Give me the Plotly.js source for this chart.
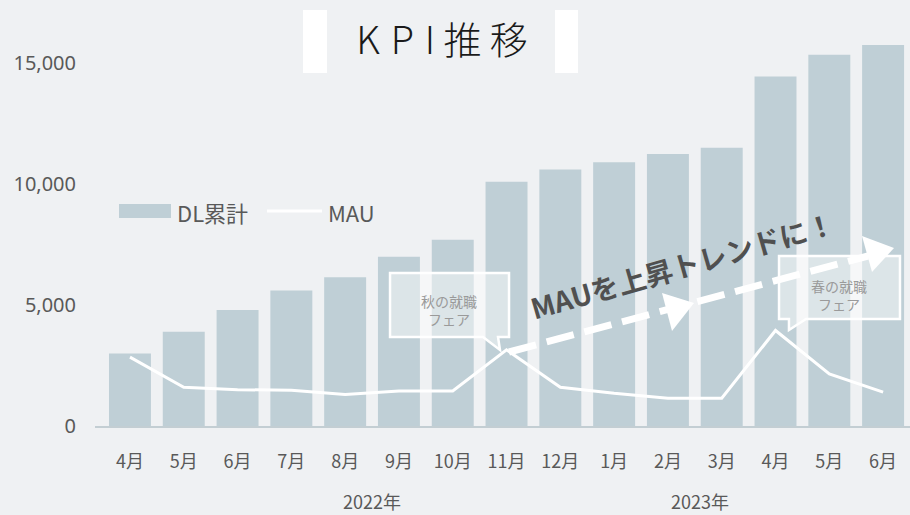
<!DOCTYPE html>
<html>
<head>
<meta charset="utf-8">
<script src="https://cdn.plot.ly/plotly-3.0.1.min.js"></script>
<style>html,body{margin:0;padding:0;background:#eff1f3;}#chart{width:910px;height:515px;}</style>
</head>
<body>
<div id="chart"></div>
<script>
// ---- data ----
const months = ["4月","5月","6月","7月","8月","9月","10月","11月","12月","1月","2月","3月","4月","5月","6月"];
const years = ["2022年","2023年"];
const dlTotal = [3000,3900,4800,5600,6150,7000,7700,10100,10600,10900,11250,11500,14450,15350,15750];
const mau = [2850,1600,1500,1480,1300,1450,1450,3150,1600,1350,1150,1150,3950,2150,1400];
const seriesNames = ["DL累計","MAU"];
const titleText = "K \u200AP \u200AI 推 移";
const trendText = "MAUを上昇トレンドに！";
const eventAutumn = "秋の就職<br>フェア";
const eventSpring = "春の就職<br>フェア";

// ---- layout helpers (pixel -> paper) ----
const L = 95, T = 39, W = 815, H = 387;
const X = px => (px - L) / W;
const Y = py => (T + H - py) / H;
const P = pts => pts.map((p, i) => (i ? "L" : "M") + X(p[0]).toFixed(4) + "," + Y(p[1]).toFixed(4)).join(" ") + " Z";

const FONT = '"Noto Sans CJK JP", "Noto Sans", sans-serif';
const BAR = "#bfcfd6";
const GREY = "#595959";

const idx = months.map((m, i) => i);

const traces = [
  {type: "bar", x: idx, y: dlTotal, name: seriesNames[0], marker: {color: BAR}, showlegend: false, hoverinfo: "skip"},
  {type: "scatter", mode: "lines", x: idx, y: mau, name: seriesNames[1], line: {color: "#ffffff", width: 3}, showlegend: false, hoverinfo: "skip"}
];

const shapes = [
  // title side boxes
  {type: "rect", xref: "paper", yref: "paper", x0: X(303), x1: X(327), y0: Y(73), y1: Y(10), fillcolor: "#ffffff", line: {width: 0}, layer: "below"},
  {type: "rect", xref: "paper", yref: "paper", x0: X(555), x1: X(578), y0: Y(73), y1: Y(10), fillcolor: "#ffffff", line: {width: 0}, layer: "below"},
  // legend
  {type: "rect", xref: "paper", yref: "paper", x0: X(119), x1: X(171), y0: Y(218), y1: Y(204), fillcolor: BAR, line: {width: 0}},
  {type: "line", xref: "paper", yref: "paper", x0: X(267), x1: X(322), y0: Y(211), y1: Y(211), line: {color: "#ffffff", width: 3}},
  // callout bubbles
  {type: "path", xref: "paper", yref: "paper", path: P([[390,273],[509,273],[509,337],[498,337],[500,350],[483,337],[390,337]]), fillcolor: "rgba(255,255,255,0.45)", line: {color: "#ffffff", width: 2.5}},
  {type: "path", xref: "paper", yref: "paper", path: P([[779,256],[900,256],[900,319],[806,319],[789,330],[789,319],[779,319]]), fillcolor: "rgba(255,255,255,0.45)", line: {color: "#ffffff", width: 2.5}},
  // trend arrow
  {type: "line", xref: "paper", yref: "paper", x0: X(509), y0: Y(352), x1: X(868), y1: Y(256), line: {color: "#ffffff", width: 7, dash: "28px,11px"}},
  {type: "path", xref: "paper", yref: "paper", path: P([[662,293],[694,303],[672,331]]), fillcolor: "#ffffff", line: {width: 0}},
  {type: "path", xref: "paper", yref: "paper", path: P([[862,236],[894,248],[872,272]]), fillcolor: "#ffffff", line: {width: 0}}
];

const ann = (x, y, text, font, extra) => Object.assign({xref: "paper", yref: "paper", x: X(x), y: Y(y), xanchor: "center", yanchor: "middle", text: text, showarrow: false, font: font}, extra || {});

const annotations = [
  ann(175, 212, seriesNames[0], {family: FONT, size: 22, color: GREY}, {xanchor: "left"}),
  ann(326, 212, seriesNames[1], {family: FONT, size: 22, color: GREY}, {xanchor: "left"}),
  ann(449, 310, eventAutumn, {family: FONT, size: 14, color: "#9a9a9a"}),
  ann(839, 295, eventSpring, {family: FONT, size: 14, color: "#9a9a9a"}),
  ann(682, 265, "<b>" + trendText + "</b>", {family: FONT, size: 28, color: "#505050"}, {textangle: -16}),
  {xref: "x", yref: "paper", x: 4.5, y: Y(501), xanchor: "center", yanchor: "middle", text: years[0], showarrow: false, font: {family: FONT, size: 18, color: GREY}},
  {xref: "x", yref: "paper", x: 10.6, y: Y(501), xanchor: "center", yanchor: "middle", text: years[1], showarrow: false, font: {family: FONT, size: 18, color: GREY}}
];

const layout = {
  width: 910, height: 515,
  paper_bgcolor: "#eff1f3", plot_bgcolor: "#eff1f3",
  margin: {l: L, r: 0, t: T, b: 515 - T - H, pad: 0},
  title: {text: titleText, font: {family: FONT, size: 38, color: "#1a1a1a", weight: 300}, xref: "paper", x: X(442), y: 1 - 41/515, xanchor: "center", yanchor: "middle"},
  bargap: 0.22,
  showlegend: false,
  xaxis: {range: [-0.65, 14.5], tickmode: "array", tickvals: idx, ticktext: months, showgrid: false, zeroline: false,
          showline: true, linecolor: "#c3ced3", linewidth: 2, ticks: "", ticklabelstandoff: 18,
          tickfont: {family: FONT, size: 18, color: GREY}, fixedrange: true},
  yaxis: {range: [0, 16000], tickvals: [0, 5000, 10000, 15000], ticktext: ["0","5,000","10,000","15,000"], showgrid: false, zeroline: false,
          showline: false, ticks: "", ticklabelstandoff: 18, tickfont: {family: '"Noto Sans", sans-serif', size: 20, color: GREY}, fixedrange: true},
  shapes: shapes,
  annotations: annotations
};

Plotly.newPlot("chart", traces, layout, {displayModeBar: false, staticPlot: true});
</script>
</body>
</html>
